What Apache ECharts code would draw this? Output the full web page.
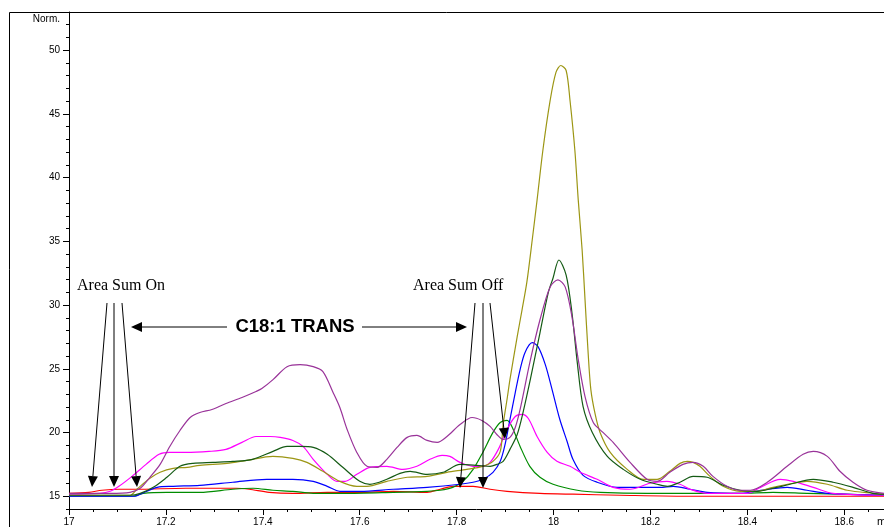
<!DOCTYPE html>
<html><head><meta charset="utf-8">
<script src="https://cdn.jsdelivr.net/npm/echarts@6/dist/echarts.min.js"></script>
<style>html,body{margin:0;padding:0;background:#fff}#c{width:884px;height:527px}</style>
</head><body><div id="c"></div>
<script>
const xTickLabels = [17, 17.2, 17.4, 17.6, 17.8, 18, 18.2, 18.4, 18.6];
const yTickLabels = [15, 20, 25, 30, 35, 40, 45, 50];

const purple = [[17.000,15.23],[17.085,15.23],[17.126,15.31],[17.147,15.63],[17.167,16.49],[17.188,17.50],[17.208,18.91],[17.229,20.16],[17.250,21.18],[17.270,21.57],[17.295,21.81],[17.324,22.28],[17.357,22.75],[17.386,23.22],[17.398,23.45],[17.421,24.15],[17.450,25.17],[17.477,25.33],[17.504,25.17],[17.524,24.78],[17.545,23.14],[17.559,21.96],[17.574,20.24],[17.594,18.44],[17.615,17.35],[17.636,17.27],[17.656,17.90],[17.677,18.83],[17.698,19.62],[17.718,19.77],[17.739,19.38],[17.760,19.23],[17.780,19.69],[17.807,20.63],[17.832,21.18],[17.852,20.95],[17.869,20.48],[17.883,19.85],[17.896,19.46],[17.910,19.62],[17.921,20.40],[17.931,21.81],[17.951,25.49],[17.972,28.85],[17.993,31.43],[18.009,31.98],[18.024,31.43],[18.038,29.08],[18.051,25.72],[18.065,22.82],[18.082,20.79],[18.102,20.01],[18.123,19.23],[18.158,17.66],[18.193,16.33],[18.214,16.17],[18.240,16.88],[18.267,17.50],[18.288,17.66],[18.309,17.35],[18.329,16.56],[18.358,15.78],[18.385,15.47],[18.406,15.47],[18.441,16.10],[18.482,17.35],[18.515,18.29],[18.536,18.52],[18.565,18.13],[18.591,16.96],[18.618,16.10],[18.647,15.47],[18.682,15.23]];

const olive = [[17.000,15.08],[17.126,15.08],[17.140,15.55],[17.167,16.41],[17.188,16.88],[17.215,17.19],[17.244,17.27],[17.270,17.43],[17.326,17.58],[17.367,17.82],[17.421,18.13],[17.462,17.97],[17.491,17.66],[17.524,16.96],[17.559,16.17],[17.594,15.78],[17.615,15.78],[17.656,16.17],[17.698,16.49],[17.739,16.56],[17.780,16.88],[17.821,17.11],[17.854,17.35],[17.875,17.74],[17.890,18.52],[17.896,20.63],[17.904,22.59],[17.910,24.15],[17.925,27.52],[17.935,29.63],[17.945,31.82],[17.956,35.11],[17.966,38.24],[17.978,42.15],[17.993,46.06],[18.005,48.26],[18.015,48.80],[18.026,48.41],[18.034,46.06],[18.044,42.15],[18.051,38.24],[18.059,34.33],[18.065,30.41],[18.071,26.50],[18.077,23.37],[18.086,21.42],[18.096,20.01],[18.117,18.44],[18.152,17.11],[18.185,16.33],[18.214,16.33],[18.240,16.96],[18.261,17.58],[18.276,17.74],[18.288,17.66],[18.302,17.35],[18.323,16.56],[18.350,15.78],[18.385,15.39],[18.420,15.39],[18.453,15.70],[18.494,16.02],[18.523,16.17],[18.565,15.94],[18.606,15.47],[18.659,15.23],[18.682,15.16]];

const darkGreen = [[17.000,15.08],[17.126,15.08],[17.147,15.23],[17.174,15.70],[17.202,16.49],[17.229,17.35],[17.256,17.58],[17.297,17.66],[17.338,17.74],[17.379,17.90],[17.421,18.52],[17.450,18.91],[17.477,18.91],[17.504,18.83],[17.533,18.29],[17.565,17.27],[17.600,16.17],[17.621,15.94],[17.656,16.33],[17.683,16.80],[17.704,16.96],[17.739,16.72],[17.772,16.88],[17.807,17.50],[17.842,17.43],[17.869,17.35],[17.883,17.50],[17.896,17.74],[17.910,18.68],[17.925,19.85],[17.937,21.57],[17.952,24.15],[17.972,27.83],[17.989,30.96],[17.999,32.13],[18.011,33.54],[18.026,32.36],[18.038,29.40],[18.049,25.49],[18.061,22.04],[18.080,20.01],[18.111,18.13],[18.144,17.11],[18.179,16.33],[18.214,15.94],[18.235,15.78],[18.261,16.10],[18.288,16.56],[18.317,16.49],[18.350,15.86],[18.385,15.47],[18.420,15.39],[18.453,15.63],[18.488,15.94],[18.536,16.33],[18.577,16.10],[18.618,15.70],[18.659,15.23],[18.682,15.16]];

const blue = [[17.000,15.00],[17.136,15.00],[17.147,15.16],[17.182,15.70],[17.215,15.78],[17.270,15.86],[17.338,16.10],[17.408,16.33],[17.462,16.33],[17.504,16.17],[17.533,15.78],[17.559,15.39],[17.601,15.39],[17.669,15.55],[17.739,15.70],[17.807,15.94],[17.834,16.10],[17.854,16.33],[17.875,16.88],[17.890,17.74],[17.900,19.07],[17.910,21.02],[17.921,23.14],[17.931,24.94],[17.941,26.27],[17.956,27.05],[17.968,26.74],[17.983,25.33],[17.997,23.37],[18.013,21.02],[18.028,19.30],[18.040,17.90],[18.061,16.64],[18.090,16.10],[18.131,15.70],[18.179,15.70],[18.220,15.70],[18.247,15.78],[18.282,15.55],[18.317,15.31],[18.385,15.23],[18.441,15.55],[18.482,15.70],[18.523,15.47],[18.565,15.23],[18.682,15.08]];

const magenta = [[17.000,15.16],[17.064,15.23],[17.085,15.39],[17.103,15.78],[17.130,16.56],[17.159,17.50],[17.186,18.29],[17.207,18.44],[17.241,18.44],[17.289,18.52],[17.324,18.68],[17.357,19.23],[17.386,19.69],[17.415,19.69],[17.436,19.62],[17.462,19.38],[17.483,18.91],[17.504,17.90],[17.533,16.72],[17.553,16.17],[17.570,16.17],[17.594,16.72],[17.621,17.27],[17.656,17.35],[17.689,17.11],[17.718,17.35],[17.745,17.90],[17.770,18.21],[17.786,18.13],[17.807,17.66],[17.834,17.35],[17.854,17.35],[17.869,17.66],[17.886,18.68],[17.904,20.24],[17.921,21.26],[17.935,21.42],[17.948,21.10],[17.966,19.69],[17.987,18.44],[18.007,17.74],[18.034,17.35],[18.055,16.88],[18.090,16.33],[18.123,15.70],[18.158,15.55],[18.199,16.02],[18.234,16.17],[18.261,15.94],[18.282,15.55],[18.317,15.23],[18.400,15.23],[18.427,15.70],[18.468,16.33],[18.495,16.17],[18.536,15.70],[18.577,15.23],[18.682,15.08]];

const green = [[17.000,15.00],[17.132,15.00],[17.153,15.23],[17.202,15.31],[17.270,15.31],[17.338,15.55],[17.380,15.63],[17.421,15.47],[17.462,15.39],[17.504,15.23],[17.566,15.23],[17.669,15.31],[17.739,15.39],[17.766,15.47],[17.792,15.70],[17.813,16.17],[17.834,17.11],[17.854,18.44],[17.875,20.01],[17.890,20.79],[17.904,20.95],[17.914,20.48],[17.931,18.91],[17.951,17.35],[17.972,16.49],[17.999,15.94],[18.049,15.47],[18.096,15.31],[18.193,15.23],[18.385,15.23],[18.453,15.31],[18.523,15.23],[18.682,15.08]];

const red = [[17.000,15.23],[17.041,15.31],[17.068,15.47],[17.103,15.55],[17.138,15.55],[17.241,15.63],[17.345,15.63],[17.372,15.55],[17.413,15.31],[17.462,15.23],[17.533,15.31],[17.601,15.31],[17.669,15.39],[17.739,15.31],[17.766,15.55],[17.793,15.78],[17.807,15.78],[17.834,15.78],[17.869,15.55],[17.904,15.39],[17.972,15.23],[18.040,15.16],[18.137,15.08],[18.288,15.00],[18.682,15.00]];

const seriesDefs = [
  {name:'red', data:red, color:'#ff0000'},
  {name:'green', data:green, color:'#008c00'},
  {name:'blue', data:blue, color:'#0000ff'},
  {name:'magenta', data:magenta, color:'#ff00ff'},
  {name:'olive', data:olive, color:'#9c9614'},
  {name:'darkGreen', data:darkGreen, color:'#145a14'},
  {name:'purple', data:purple, color:'#993399'}
];

const chart = echarts.init(document.getElementById('c'), null, {renderer:'canvas'});

function arrow(x1, y1, x2, y2, head, w) {
  const a = Math.atan2(y2 - y1, x2 - x1);
  const bx = x2 - head * Math.cos(a), by = y2 - head * Math.sin(a);
  const px = -Math.sin(a) * w / 2, py = Math.cos(a) * w / 2;
  return [
    {type:'line', shape:{x1:x1, y1:y1, x2:bx, y2:by}, style:{stroke:'#000', lineWidth:1}, z:100},
    {type:'polygon', shape:{points:[[x2,y2],[bx+px,by+py],[bx-px,by-py]]}, style:{fill:'#000'}, z:100}
  ];
}

const graphics = [
  {type:'line', shape:{x1:9.5, y1:12.5, x2:884, y2:12.5}, style:{stroke:'#000', lineWidth:1}},
  {type:'line', shape:{x1:9.5, y1:12.5, x2:9.5, y2:527}, style:{stroke:'#000', lineWidth:1}},
  {type:'text', style:{text:'Norm.', x:60, y:19, align:'right', verticalAlign:'middle', font:'10px "Liberation Sans", Arial, sans-serif', fill:'#000'}},
  {type:'text', style:{text:'min', x:877, y:516, align:'left', verticalAlign:'top', font:'11px "Liberation Sans", Arial, sans-serif', fill:'#000'}},
  {type:'text', style:{text:'Area Sum On', x:77, y:286, align:'left', verticalAlign:'middle', font:'16px "Liberation Serif", "Times New Roman", serif', fill:'#000'}, z:100},
  {type:'text', style:{text:'Area Sum Off', x:413, y:286, align:'left', verticalAlign:'middle', font:'16px "Liberation Serif", "Times New Roman", serif', fill:'#000'}, z:100},
  {type:'text', style:{text:'C18:1 TRANS', x:295, y:327, align:'center', verticalAlign:'middle', font:'bold 18.5px "Liberation Sans", Arial, sans-serif', fill:'#000'}, z:100}
].concat(
  arrow(107,303,92,487,11,10),
  arrow(114,303,114,487,11,10),
  arrow(122,303,137,487,11,10),
  arrow(475,303,460,488,11,10),
  arrow(483,303,483,488,11,10),
  arrow(490,303,505,439,11,10),
  arrow(227,327,131,327,11,10),
  arrow(362,327,467,327,11,10)
);

const axisFont = {fontSize:10, color:'#000', fontFamily:'"Liberation Sans", Arial, sans-serif'};

chart.setOption({
  animation:false,
  backgroundColor:'#fff',
  grid:{left:69, right:0, top:12, bottom:17, containLabel:false},
  xAxis:[
    {type:'value', min:17, max:18.682, interval:0.2, position:'bottom',
     axisLine:{show:true, onZero:false, lineStyle:{color:'#000', width:1}},
     axisTick:{show:true, length:6, customValues:xTickLabels, lineStyle:{color:'#000'}},
     axisLabel:Object.assign({show:true, margin:8, customValues:xTickLabels, formatter:function(v){return String(v);}}, axisFont),
     splitLine:{show:false}},
    {type:'value', min:17, max:18.682, interval:0.05, position:'bottom',
     axisLine:{show:false, onZero:false},
     axisTick:{show:true, length:3, lineStyle:{color:'#000'}},
     axisLabel:{show:false}, splitLine:{show:false}}
  ],
  yAxis:[
    {type:'value', min:14, max:53, position:'left',
     axisLine:{show:true, onZero:false, lineStyle:{color:'#000', width:1}},
     axisTick:{show:true, length:6, customValues:yTickLabels, lineStyle:{color:'#000'}},
     axisLabel:Object.assign({show:true, margin:9, customValues:yTickLabels}, axisFont),
     splitLine:{show:false}},
    {type:'value', min:14, max:53, interval:1, position:'left',
     axisLine:{show:false, onZero:false},
     axisTick:{show:true, length:3, lineStyle:{color:'#000'}},
     axisLabel:{show:false}, splitLine:{show:false}}
  ],
  series: seriesDefs.map(function(s){
    return {type:'line', name:s.name, data:s.data, xAxisIndex:0, yAxisIndex:0,
      showSymbol:false, symbol:'none', smooth:0.3,
      lineStyle:{color:s.color, width:1.2}, itemStyle:{color:s.color}};
  }),
  graphic: graphics
});
</script>
</body></html>
